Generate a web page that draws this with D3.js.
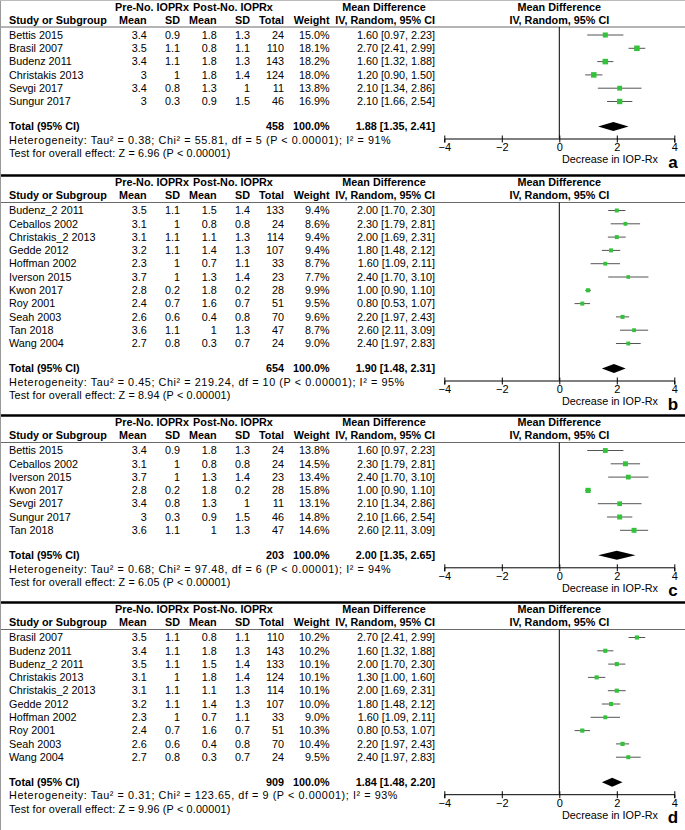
<!DOCTYPE html>
<html>
<head>
<meta charset="utf-8">
<script src="https://cdn.jsdelivr.net/npm/d3@7"></script>
<style>
  body { margin: 0; background: #fff; }
  svg { font-family: 'Liberation Sans', Arial, sans-serif; font-size: 10.8px; }
  .bold { font-weight: bold; }
</style>
</head>
<body>
<svg width="685" height="830"></svg>
<script>
// rows: study, pre mean, pre sd, post mean, post sd, total, weight %, MD, lower, upper
const rowsA = [
  ['Bettis 2015', 3.4, 0.9, 1.8, 1.3, 24, 15.0, 1.60, 0.97, 2.23],
  ['Brasil 2007', 3.5, 1.1, 0.8, 1.1, 110, 18.1, 2.70, 2.41, 2.99],
  ['Budenz 2011', 3.4, 1.1, 1.8, 1.3, 143, 18.2, 1.60, 1.32, 1.88],
  ['Christakis 2013', 3, 1, 1.8, 1.4, 124, 18.0, 1.20, 0.90, 1.50],
  ['Sevgi 2017', 3.4, 0.8, 1.3, 1, 11, 13.8, 2.10, 1.34, 2.86],
  ['Sungur 2017', 3, 0.3, 0.9, 1.5, 46, 16.9, 2.10, 1.66, 2.54]
];
const rowsB = [
  ['Budenz_2 2011', 3.5, 1.1, 1.5, 1.4, 133, 9.4, 2.00, 1.70, 2.30],
  ['Ceballos 2002', 3.1, 1, 0.8, 0.8, 24, 8.6, 2.30, 1.79, 2.81],
  ['Christakis_2 2013', 3.1, 1.1, 1.1, 1.3, 114, 9.4, 2.00, 1.69, 2.31],
  ['Gedde 2012', 3.2, 1.1, 1.4, 1.3, 107, 9.4, 1.80, 1.48, 2.12],
  ['Hoffman 2002', 2.3, 1, 0.7, 1.1, 33, 8.7, 1.60, 1.09, 2.11],
  ['Iverson 2015', 3.7, 1, 1.3, 1.4, 23, 7.7, 2.40, 1.70, 3.10],
  ['Kwon 2017', 2.8, 0.2, 1.8, 0.2, 28, 9.9, 1.00, 0.90, 1.10],
  ['Roy 2001', 2.4, 0.7, 1.6, 0.7, 51, 9.5, 0.80, 0.53, 1.07],
  ['Seah 2003', 2.6, 0.6, 0.4, 0.8, 70, 9.6, 2.20, 1.97, 2.43],
  ['Tan 2018', 3.6, 1.1, 1, 1.3, 47, 8.7, 2.60, 2.11, 3.09],
  ['Wang 2004', 2.7, 0.8, 0.3, 0.7, 24, 9.0, 2.40, 1.97, 2.83]
];
const rowsC = [
  ['Bettis 2015', 3.4, 0.9, 1.8, 1.3, 24, 13.8, 1.60, 0.97, 2.23],
  ['Ceballos 2002', 3.1, 1, 0.8, 0.8, 24, 14.5, 2.30, 1.79, 2.81],
  ['Iverson 2015', 3.7, 1, 1.3, 1.4, 23, 13.4, 2.40, 1.70, 3.10],
  ['Kwon 2017', 2.8, 0.2, 1.8, 0.2, 28, 15.8, 1.00, 0.90, 1.10],
  ['Sevgi 2017', 3.4, 0.8, 1.3, 1, 11, 13.1, 2.10, 1.34, 2.86],
  ['Sungur 2017', 3, 0.3, 0.9, 1.5, 46, 14.8, 2.10, 1.66, 2.54],
  ['Tan 2018', 3.6, 1.1, 1, 1.3, 47, 14.6, 2.60, 2.11, 3.09]
];
const rowsD = [
  ['Brasil 2007', 3.5, 1.1, 0.8, 1.1, 110, 10.2, 2.70, 2.41, 2.99],
  ['Budenz 2011', 3.4, 1.1, 1.8, 1.3, 143, 10.2, 1.60, 1.32, 1.88],
  ['Budenz_2 2011', 3.5, 1.1, 1.5, 1.4, 133, 10.1, 2.00, 1.70, 2.30],
  ['Christakis 2013', 3.1, 1, 1.8, 1.4, 124, 10.1, 1.30, 1.00, 1.60],
  ['Christakis_2 2013', 3.1, 1.1, 1.1, 1.3, 114, 10.1, 2.00, 1.69, 2.31],
  ['Gedde 2012', 3.2, 1.1, 1.4, 1.3, 107, 10.0, 1.80, 1.48, 2.12],
  ['Hoffman 2002', 2.3, 1, 0.7, 1.1, 33, 9.0, 1.60, 1.09, 2.11],
  ['Roy 2001', 2.4, 0.7, 1.6, 0.7, 51, 10.3, 0.80, 0.53, 1.07],
  ['Seah 2003', 2.6, 0.6, 0.4, 0.8, 70, 10.4, 2.20, 1.97, 2.43],
  ['Wang 2004', 2.7, 0.8, 0.3, 0.7, 24, 9.5, 2.40, 1.97, 2.83]
];
// totals: N, MD, lower, upper, tau2, chi2, df, I2, Z
const totalA = [458, 1.88, 1.35, 2.41, '0.38', '55.81', 5, 91, '6.96'];
const totalB = [654, 1.90, 1.48, 2.31, '0.45', '219.24', 10, 95, '8.94'];
const totalC = [203, 2.00, 1.35, 2.65, '0.68', '97.48', 6, 94, '6.05'];
const totalD = [909, 1.84, 1.48, 2.20, '0.31', '123.65', 9, 93, '9.96'];
const panelLetters = ['a', 'b', 'c', 'd'];
const xTicks = [-4, -2, 0, 2, 4];

const svg = d3.select('svg');
const W = 685;
const rowH = 13.3;
const panelTops = [0, 175.5, 415.5, 602.5];

const x = d3.scaleLinear().domain([-4, 4]).range([444.3, 674.3]);

// column right edges
const cols = { preMean: 146.7, preSD: 180, postMean: 216.7, postSD: 250, total: 284, weight: 329.5, md: 435 };

function txt(g, xp, yp, s, anchor, cls) {
  return g.append('text')
    .attr('x', xp).attr('y', yp).attr('dy', '0.35em')
    .attr('text-anchor', anchor || 'start')
    .attr('class', cls || null)
    .text(s);
}

const fmt = (v) => String(v);
const f2 = d3.format('.2f');

function drawPanel(rows, tot, T, letter) {
  const g = svg.append('g');

  // header
  txt(g, 152, T + 7, 'Pre-No. IOPRx', 'middle', 'bold');
  txt(g, 233, T + 7, 'Post-No. IOPRx', 'middle', 'bold');
  txt(g, 384, T + 7, 'Mean Difference', 'middle', 'bold');
  txt(g, x(0), T + 7, 'Mean Difference', 'middle', 'bold');
  txt(g, 9, T + 20, 'Study or Subgroup', 'start', 'bold');
  txt(g, cols.preMean, T + 20, 'Mean', 'end', 'bold');
  txt(g, cols.preSD, T + 20, 'SD', 'end', 'bold');
  txt(g, cols.postMean, T + 20, 'Mean', 'end', 'bold');
  txt(g, cols.postSD, T + 20, 'SD', 'end', 'bold');
  txt(g, cols.total, T + 20, 'Total', 'end', 'bold');
  txt(g, cols.weight, T + 20, 'Weight', 'end', 'bold');
  txt(g, cols.md, T + 20, 'IV, Random, 95% CI', 'end', 'bold');
  txt(g, x(0), T + 20, 'IV, Random, 95% CI', 'middle', 'bold');

  g.append('line')
    .attr('x1', 0).attr('x2', W)
    .attr('y1', T + 27).attr('y2', T + 27)
    .attr('stroke', '#444').attr('stroke-width', 0.8);

  const y0 = T + 35;
  const yLast = y0 + (rows.length - 1) * rowH;
  const yTot = yLast + 25;
  const yAxis = yTot + 12;

  // zero line
  g.append('line')
    .attr('x1', x(0)).attr('x2', x(0))
    .attr('y1', T + 27).attr('y2', yAxis)
    .attr('stroke', '#000').attr('stroke-width', 1);

  rows.forEach((r, i) => {
    const yy = y0 + i * rowH;
    txt(g, 9, yy, r[0]);
    txt(g, cols.preMean, yy, fmt(r[1]), 'end');
    txt(g, cols.preSD, yy, fmt(r[2]), 'end');
    txt(g, cols.postMean, yy, fmt(r[3]), 'end');
    txt(g, cols.postSD, yy, fmt(r[4]), 'end');
    txt(g, cols.total, yy, fmt(r[5]), 'end');
    txt(g, cols.weight, yy, r[6].toFixed(1) + '%', 'end');
    txt(g, cols.md, yy, `${f2(r[7])} [${f2(r[8])}, ${f2(r[9])}]`, 'end');

    // CI line + square
    g.append('line')
      .attr('x1', x(r[8])).attr('x2', x(r[9]))
      .attr('y1', yy).attr('y2', yy)
      .attr('stroke', '#555').attr('stroke-width', 1);
    const s = 1.3 * Math.sqrt(r[6]);
    g.append('rect')
      .attr('x', x(r[7]) - s / 2).attr('y', yy - s / 2)
      .attr('width', s).attr('height', s)
      .attr('fill', '#33c23a');
  });

  // total row
  txt(g, 9, yTot, 'Total (95% CI)', 'start', 'bold');
  txt(g, cols.total, yTot, fmt(tot[0]), 'end', 'bold');
  txt(g, cols.weight, yTot, '100.0%', 'end', 'bold');
  txt(g, cols.md, yTot, `${f2(tot[1])} [${f2(tot[2])}, ${f2(tot[3])}]`, 'end', 'bold');

  const dh = 4.5;
  g.append('path')
    .attr('d', `M${x(tot[2])},${yTot} L${x(tot[1])},${yTot - dh} L${x(tot[3])},${yTot} L${x(tot[1])},${yTot + dh} Z`)
    .attr('fill', '#000');

  // heterogeneity line is set wider in the original font, stretch spacing a bit
  const het = txt(g, 9, yTot + 13.5,
    `Heterogeneity: Tau² = ${tot[4]}; Chi² = ${tot[5]}, df = ${tot[6]} (P < 0.00001); I² = ${tot[7]}%`);
  const hw = het.node().getComputedTextLength();
  het.attr('textLength', hw * 1.12).attr('lengthAdjust', 'spacing');

  const tst = txt(g, 9, yTot + 27, `Test for overall effect: Z = ${tot[8]} (P < 0.00001)`);
  const tw = tst.node().getComputedTextLength();
  tst.attr('textLength', tw * 1.035).attr('lengthAdjust', 'spacing');

  // axis
  const ax = g.append('g')
    .attr('transform', `translate(0, ${yAxis})`)
    .call(d3.axisBottom(x).tickValues(xTicks).tickSizeOuter(0).tickSize(4).tickPadding(1));
  ax.select('.domain').attr('stroke', '#000');
  ax.selectAll('.tick line').attr('y1', -3).attr('y2', 4).attr('stroke', '#000');
  ax.selectAll('.tick text')
    .attr('font-family', "'Liberation Sans', Arial, sans-serif")
    .attr('font-size', '11px')
    .attr('fill', '#000');

  txt(g, 610, yAxis + 21, 'Decrease in IOP-Rx', 'middle');
  g.append('text')
    .attr('x', 673).attr('y', yAxis + 29)
    .attr('text-anchor', 'middle')
    .attr('font-weight', 'bold')
    .attr('font-size', '17px')
    .text(letter);
}

drawPanel(rowsA, totalA, panelTops[0], panelLetters[0]);
drawPanel(rowsB, totalB, panelTops[1], panelLetters[1]);
drawPanel(rowsC, totalC, panelTops[2], panelLetters[2]);
drawPanel(rowsD, totalD, panelTops[3], panelLetters[3]);

// thick separators between panels
svg.selectAll('.sep')
  .data(panelTops.slice(1))
  .enter()
  .append('line')
  .attr('x1', 0).attr('x2', W)
  .attr('y1', (d) => d).attr('y2', (d) => d)
  .attr('stroke', '#000').attr('stroke-width', 2.5);

// thin frame on left and top
svg.append('line').attr('x1', 0.5).attr('x2', 0.5).attr('y1', 0).attr('y2', 830)
  .attr('stroke', '#999').attr('stroke-width', 1);
svg.append('line').attr('x1', 0).attr('x2', W).attr('y1', 0.5).attr('y2', 0.5)
  .attr('stroke', '#bbb').attr('stroke-width', 1);
</script>
</body>
</html>
